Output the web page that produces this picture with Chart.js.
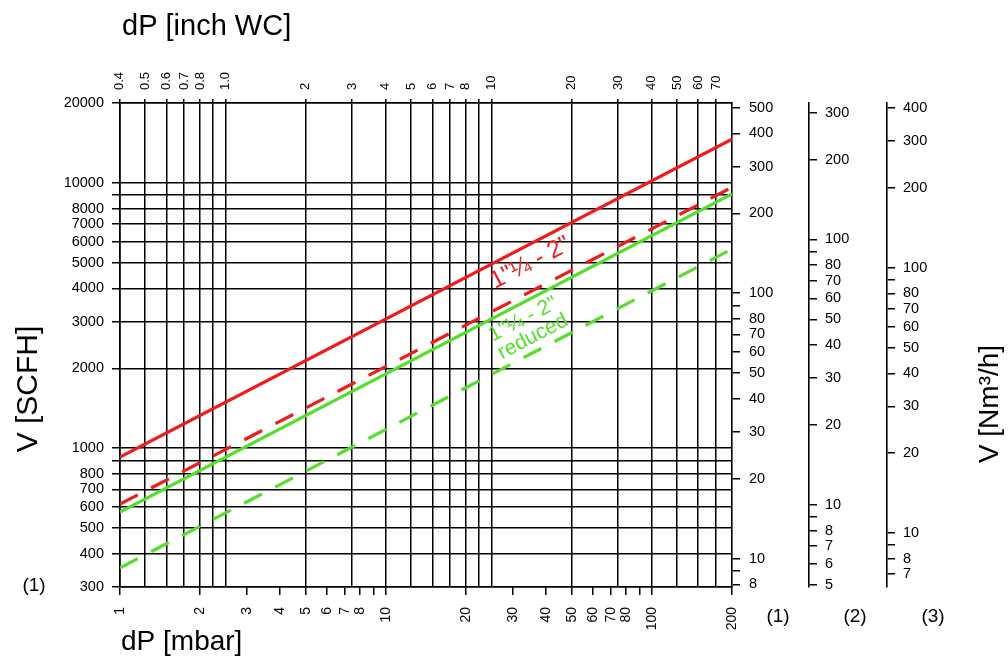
<!DOCTYPE html>
<html>
<head>
<meta charset="utf-8">
<title>dP - V diagram</title>
<script src="https://cdn.jsdelivr.net/npm/chart.js@4.4.1/dist/chart.umd.min.js"></script>
<style>
  body { margin: 0; background: #fff; }
  #wrap { width: 1008px; height: 660px; }
</style>
</head>
<body>
<div id="wrap"><canvas id="chart" width="1008" height="660"></canvas></div>
<script>
// pressure drop at the two ends of every line, mbar
const dpEnds = [1, 200];

// flow at 1 mbar and at 200 mbar, SCFH
const solid1 = [927, 14600];   // 1"1/4 - 2"
const dashed1 = [616, 9620];
const solid2 = [575, 9080];    // 1"1/4 - 2" reduced
const dashed2 = [354, 5630];

// tick values, the hidden ones keep a tick but get no label
const mbarTicks = [1, 2, 3, 4, 5, 6, 7, 8, 9, 10, 20, 30, 40, 50, 60, 70, 80, 90, 100, 200];
const mbarHidden = [9, 90];
const inchTicks = [0.4, 0.5, 0.6, 0.7, 0.8, 0.9, 1, 2, 3, 4, 5, 6, 7, 8, 9, 10, 20, 30, 40, 50, 60, 70];
const inchHidden = [0.9, 9];
const scfhTicks = [300, 400, 500, 600, 700, 800, 900, 1000, 2000, 3000, 4000, 5000, 6000, 7000, 8000, 9000, 10000, 20000];
const scfhHidden = [900, 9000];
const nm1Ticks = [8, 9, 10, 20, 30, 40, 50, 60, 70, 80, 90, 100, 200, 300, 400, 500];
const nm2Ticks = [5, 6, 7, 8, 9, 10, 20, 30, 40, 50, 60, 70, 80, 90, 100, 200, 300];
const nm3Ticks = [7, 8, 9, 10, 20, 30, 40, 50, 60, 70, 80, 90, 100, 200, 300, 400];
const nmHidden = [9, 90];

const dpRange = [1, 200];
const scfhRange = [300, 20000];
const MBAR_PER_INCH_WC = 2.4884;
// SCFH per Nm3/h on the right scales (1), (2), (3)
const nmFactors = [38.4, 61.2, 47.9];

const FONT = "'Liberation Sans', Arial, Helvetica, sans-serif";
const RED = '#f01c1c';
const GREEN = '#55de2c';

function points(vals) {
  return dpEnds.map((d, i) => ({ x: d, y: vals[i] }));
}

// log axis with fixed ticks
function logAxis(position, min, max, values, hidden, size, opts) {
  const horiz = position == 'top' || position == 'bottom';
  return Object.assign({
    type: 'logarithmic',
    position: position,
    min: min,
    max: max,
    afterBuildTicks: s => { s.ticks = values.map(v => ({ value: v })); },
    afterFit: s => { if (horiz) s.height = size; else s.width = size; },
    border: { display: true, color: '#000', width: 1.6 },
  }, opts, {
    ticks: Object.assign({
      autoSkip: false,
      color: '#000',
      font: { family: FONT, size: 14.5 },
      callback: v => hidden.includes(v) ? '' : String(v)
    }, opts.ticks)
  });
}

const GRID = { color: '#000', lineWidth: 1.5, drawTicks: true };

const scales = {
  x: logAxis('bottom', dpRange[0], dpRange[1], mbarTicks, mbarHidden, 73, {
    grid: Object.assign({}, GRID, { drawOnChartArea: false, tickLength: 8 }),
    ticks: { minRotation: 90, maxRotation: 90, padding: 12, font: { family: FONT, size: 14 } }
  }),
  x2: logAxis('top', dpRange[0] / MBAR_PER_INCH_WC, dpRange[1] / MBAR_PER_INCH_WC, inchTicks, inchHidden, 103, {
    grid: Object.assign({}, GRID, { drawOnChartArea: true, tickLength: 4 }),
    ticks: {
      minRotation: 90, maxRotation: 90, padding: 9, labelOffset: 16, font: { family: FONT, size: 13 },
      callback: v => inchHidden.includes(v) ? '' : (v <= 1 ? v.toFixed(1) : String(v))
    }
  }),
  y: logAxis('left', scfhRange[0], scfhRange[1], scfhTicks, scfhHidden, 120, {
    grid: Object.assign({}, GRID, { drawOnChartArea: true, tickLength: 8 }),
    ticks: { padding: 8 }
  })
};
[nm1Ticks, nm2Ticks, nm3Ticks].forEach((t, i) => {
  scales['y' + (i + 1)] = logAxis('right', scfhRange[0] / nmFactors[i], scfhRange[1] / nmFactors[i],
    t, nmHidden, [77, 78, 121][i], {
      grid: Object.assign({}, GRID, { drawOnChartArea: false, tickLength: 8 }),
      ticks: { padding: i == 0 ? 9 : 8 }
    });
});

// labels written along the lines, anchored in data units
const lineLabels = [
  { ds: 0, at: [25.7, 3980], size: 24.5, color: RED, lines: ['1"\u00bc - 2"'] },
  { ds: 2, at: [25.2, 2520], size: 21, color: GREEN, lines: ['1"\u00bc - 2"', 'reduced'] }
];

const textPlugin = {
  id: 'freeText',
  afterDatasetsDraw(chart) {
    const ctx = chart.ctx;
    const sx = chart.scales.x, sy = chart.scales.y;
    ctx.save();
    ctx.fillStyle = '#000';
    ctx.textBaseline = 'alphabetic';

    ctx.font = '29px ' + FONT;
    ctx.textAlign = 'left';
    ctx.fillText('dP [inch WC]', 122, 35);
    ctx.font = '28px ' + FONT;
    ctx.fillText('dP [mbar]', 121, 650);

    ctx.save();
    ctx.font = '30px ' + FONT;
    ctx.textAlign = 'center';
    ctx.translate(37, 389);
    ctx.rotate(-Math.PI / 2);
    ctx.fillText('V [SCFH]', 0, 0);
    ctx.restore();

    ctx.save();
    ctx.font = '28px ' + FONT;
    ctx.textAlign = 'center';
    ctx.translate(998, 404);
    ctx.rotate(-Math.PI / 2);
    ctx.fillText('V [Nm\u00b3/h]', 0, 0);
    ctx.restore();

    ctx.font = '19px ' + FONT;
    ctx.textAlign = 'center';
    ctx.textBaseline = 'middle';
    ctx.fillText('(1)', 34, 586);
    ctx.fillText('(1)', 778, 617);
    ctx.fillText('(2)', 855, 617);
    ctx.fillText('(3)', 933, 617);

    lineLabels.forEach(l => {
      const d = chart.data.datasets[l.ds].data;
      const a = Math.atan2(sy.getPixelForValue(d[1].y) - sy.getPixelForValue(d[0].y),
        sx.getPixelForValue(d[1].x) - sx.getPixelForValue(d[0].x));
      ctx.save();
      ctx.translate(sx.getPixelForValue(l.at[0]), sy.getPixelForValue(l.at[1]));
      ctx.rotate(a);
      ctx.fillStyle = l.color;
      ctx.font = l.size + 'px ' + FONT;
      ctx.textAlign = 'left';
      ctx.textBaseline = 'alphabetic';
      l.lines.forEach((t, i) => ctx.fillText(t, 0, i * l.size * 0.95));
      ctx.restore();
    });
    ctx.restore();
  }
};

new Chart(document.getElementById('chart'), {
  type: 'scatter',
  data: {
    datasets: [
      { label: '1"1/4 - 2"', data: points(solid1), borderColor: RED, borderWidth: 3.2 },
      { label: '1"1/4 - 2" dashed', data: points(dashed1), borderColor: RED, borderWidth: 3.2, borderDash: [20, 15] },
      { label: '1"1/4 - 2" reduced', data: points(solid2), borderColor: GREEN, borderWidth: 3.2 },
      { label: '1"1/4 - 2" reduced dashed', data: points(dashed2), borderColor: GREEN, borderWidth: 3.2, borderDash: [20, 15] }
    ].map(d => Object.assign(d, { showLine: true, pointRadius: 0, fill: false }))
  },
  options: {
    responsive: false,
    animation: false,
    devicePixelRatio: 1,
    layout: { padding: 0, autoPadding: false },
    plugins: { legend: { display: false }, tooltip: { enabled: false } },
    scales: scales
  },
  plugins: [textPlugin]
});
</script>
</body>
</html>
